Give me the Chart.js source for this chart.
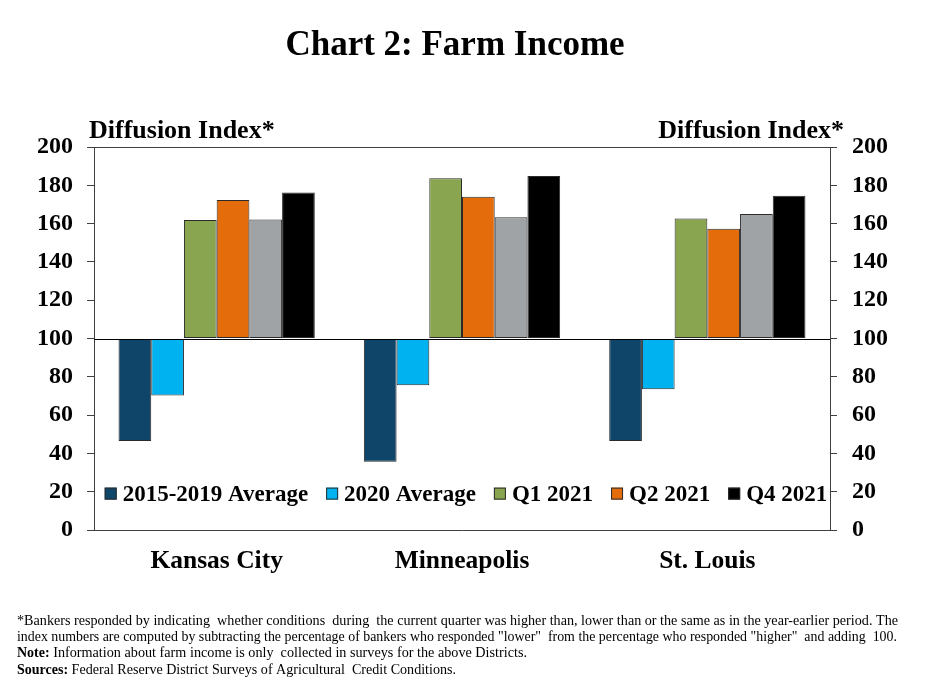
<!DOCTYPE html>
<html>
<head>
<meta charset="utf-8">
<script src="https://cdn.jsdelivr.net/npm/chart.js@4/dist/chart.umd.min.js"></script>
<style>
    html, body { margin: 0; padding: 0; background: #fff; }
    #wrap { width: 925px; height: 693px; position: relative; }
</style>
</head>
<body>
<div id="wrap"><canvas id="farmChart" width="925" height="693"></canvas></div>
<script>
const districts = ["Kansas City", "Minneapolis", "St. Louis"];

const avg2015to2019 = [46.5, 35.7, 46.5];
const avg2020 = [70.2, 75.6, 73.5];
const q1of2021 = [161.9, 183.7, 162.7];
const q2of2021 = [172.3, 174.0, 157.3];
const q3of2021 = [162.2, 163.3, 165.0];
const q4of2021 = [176.3, 184.9, 174.6];

const yTicks = [0, 20, 40, 60, 80, 100, 120, 140, 160, 180, 200];

const seriesNames = ["2015-2019 Average", "2020 Average", "Q1 2021", "Q2 2021", "Q3 2021", "Q4 2021"];
const seriesColors = ["#10456a", "#00b2f0", "#8aa550", "#e46c0a", "#9fa3a5", "#000000"];
const legendNames = ["2015-2019 Average", "2020 Average", "Q1 2021", "Q2 2021", "Q4 2021"];

const SERIF = "'Liberation Serif', 'Times New Roman', serif";

const seriesData = [avg2015to2019, avg2020, q1of2021, q2of2021, q3of2021, q4of2021];

const datasets = seriesNames.map(function (name, i) {
    return {
        label: name,
        data: seriesData[i],
        base: 100,
        backgroundColor: seriesColors[i],
        borderColor: "#2b2b2b",
        borderWidth: 1,
        borderSkipped: false,
        barPercentage: 1,
        categoryPercentage: 0.8
    };
});

// draws text squeezed or stretched to a given width
function fitText(ctx, text, x, y, width) {
    const w = ctx.measureText(text).width;
    ctx.save();
    ctx.translate(x, y);
    ctx.scale(width / w, 1);
    ctx.fillText(text, 0, 0);
    ctx.restore();
}

// ============================
// Extra drawing: title, frame, legend, notes
// ============================

const decorPlugin = {
    id: "decor",
    afterDatasetsDraw(chart) {
        const ctx = chart.ctx;
        const area = chart.chartArea;
        const y = chart.scales.y;

        ctx.save();
        ctx.strokeStyle = "#000";
        ctx.lineWidth = 1;

        // line at 100
        const y100 = Math.round(y.getPixelForValue(100)) + 0.5;
        ctx.beginPath();
        ctx.moveTo(area.left, y100);
        ctx.lineTo(area.right, y100);
        ctx.stroke();

        // top frame line
        ctx.strokeStyle = "#404040";
        ctx.beginPath();
        ctx.moveTo(area.left - 7, Math.round(area.top) + 0.5);
        ctx.lineTo(area.right + 7, Math.round(area.top) + 0.5);
        ctx.stroke();
        ctx.restore();
    },
    afterDraw(chart) {
        const ctx = chart.ctx;
        const area = chart.chartArea;

        ctx.save();
        ctx.fillStyle = "#000";
        ctx.textBaseline = "middle";

        // title
        ctx.font = "bold 35px " + SERIF;
        ctx.textAlign = "center";
        ctx.fillText("Chart 2: Farm Income", 455, 46);

        // axis titles
        ctx.font = "bold 26px " + SERIF;
        ctx.textAlign = "left";
        ctx.fillText("Diffusion Index*", 89, 131);
        ctx.textAlign = "right";
        ctx.fillText("Diffusion Index*", 844, 131);

        // legend inside plot
        ctx.font = "bold 23px " + SERIF;
        ctx.textAlign = "left";
        const box = 12;
        const gapText = 6;
        const gapItem = 18;
        const widths = legendNames.map(n => ctx.measureText(n).width);
        let total = 0;
        widths.forEach(w => { total += box + gapText + w; });
        total += gapItem * (legendNames.length - 1);
        let x = (area.left + area.right) / 2 + 4 - total / 2;
        const ly = chart.scales.y.getPixelForValue(19);
        legendNames.forEach(function (name, i) {
            const color = seriesColors[seriesNames.indexOf(name)];
            ctx.fillStyle = color;
            ctx.fillRect(x, ly - box / 2, box, box);
            ctx.strokeStyle = "#2b2b2b";
            ctx.lineWidth = 1;
            ctx.strokeRect(x + 0.5, ly - box / 2 + 0.5, box - 1, box - 1);
            ctx.fillStyle = "#000";
            ctx.fillText(name, x + box + gapText, ly + 1);
            x += box + gapText + widths[i] + gapItem;
        });

        // notes
        const notes = [
            { bold: "", text: "*Bankers responded by indicating  whether conditions  during  the current quarter was higher than, lower than or the same as in the year-earlier period. The", end: 898 },
            { bold: "", text: "index numbers are computed by subtracting the percentage of bankers who responded \"lower\"  from the percentage who responded \"higher\"  and adding  100.", end: 897 },
            { bold: "Note: ", text: "Information about farm income is only  collected in surveys for the above Districts.", end: 527 },
            { bold: "Sources: ", text: "Federal Reserve District Surveys of Agricultural  Credit Conditions.", end: 456 }
        ];
        const lineY = [621, 637, 653, 670];
        ctx.textAlign = "left";
        notes.forEach(function (n, i) {
            let nx = 17;
            if (n.bold) {
                ctx.font = "bold 14px " + SERIF;
                ctx.fillText(n.bold, nx, lineY[i]);
                nx += ctx.measureText(n.bold).width;
            }
            ctx.font = "14px " + SERIF;
            fitText(ctx, n.text, nx, lineY[i], n.end - nx);
        });

        ctx.restore();
    }
};

const tickFont = { family: SERIF, size: 24, weight: "bold" };

new Chart(document.getElementById("farmChart").getContext("2d"), {
    type: "bar",
    data: {
        labels: districts,
        datasets: datasets
    },
    options: {
        responsive: false,
        animation: false,
        devicePixelRatio: 1,
        layout: { padding: { top: 147, left: 0, right: 0, bottom: 0 } },
        plugins: {
            legend: { display: false },
            title: { display: false },
            tooltip: { enabled: false }
        },
        scales: {
            x: {
                grid: { display: false },
                border: { display: true, color: "#404040", width: 1 },
                ticks: { color: "#000", font: { family: SERIF, size: 25.5, weight: "bold" }, padding: 8, maxRotation: 0 },
                afterFit(scale) { scale.height = 163; }
            },
            y: {
                position: "left",
                min: 0,
                max: 200,
                afterBuildTicks(scale) { scale.ticks = yTicks.map(v => ({ value: v })); },
                grid: { drawOnChartArea: false, drawTicks: true, tickLength: 7, color: "#404040" },
                border: { display: true, color: "#404040", width: 1 },
                ticks: { color: "#000", font: tickFont, padding: 14 },
                afterFit(scale) { scale.width = 94; }
            },
            y2: {
                position: "right",
                min: 0,
                max: 200,
                afterBuildTicks(scale) { scale.ticks = yTicks.map(v => ({ value: v })); },
                grid: { drawOnChartArea: false, drawTicks: true, tickLength: 7, color: "#404040" },
                border: { display: true, color: "#404040", width: 1 },
                ticks: { color: "#000", font: tickFont, padding: 15 },
                afterFit(scale) { scale.width = 95; }
            }
        }
    },
    plugins: [decorPlugin]
});
</script>
</body>
</html>
